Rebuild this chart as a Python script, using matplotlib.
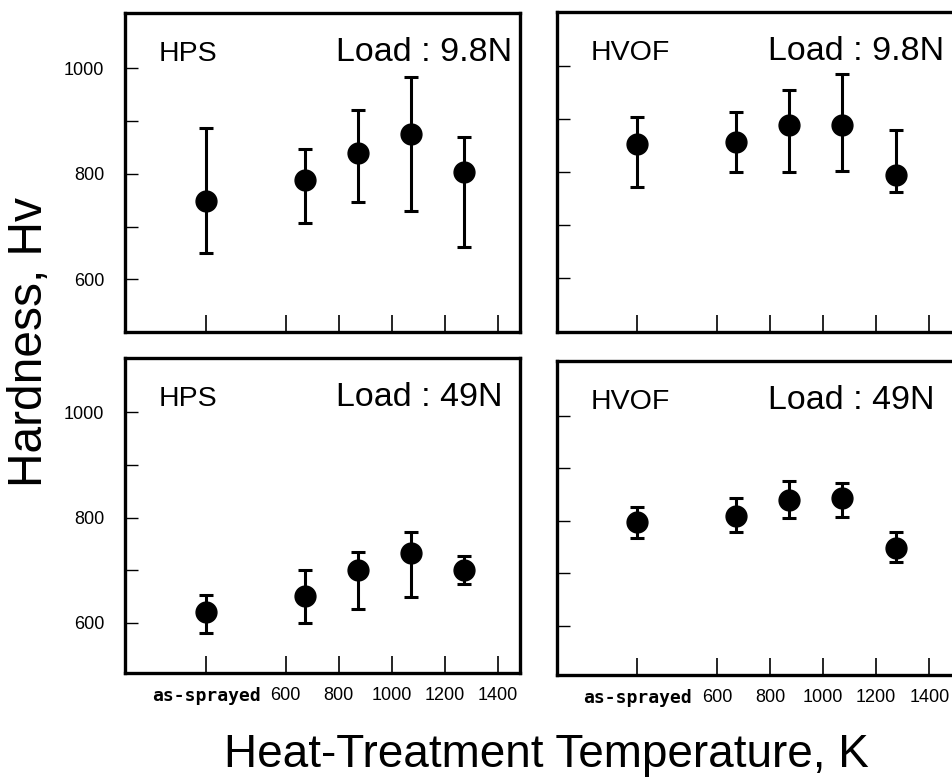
import matplotlib
matplotlib.use('Agg')
import matplotlib.pyplot as plt

plt.rcParams['font.family'] = ['Liberation Sans', 'DejaVu Sans']

# x positions (K); as-sprayed drawn at 300
temps = [300, 673, 873, 1073, 1273]
xtick_pos = [300, 600, 800, 1000, 1200, 1400]
xtick_lab = ['as-sprayed', '600', '800', '1000', '1200', '1400']
ytick_pos = [600, 700, 800, 900, 1000]
ytick_lab = ['600', '', '800', '', '1000']

# hardness: mean, upper end of bar, lower end of bar
hps_98 = [748, 788, 839, 875, 804]
hps_98_hi = [886, 848, 921, 984, 869]
hps_98_lo = [649, 707, 746, 729, 662]

hvof_98 = [852, 856, 888, 888, 794]
hvof_98_hi = [904, 912, 955, 984, 878]
hvof_98_lo = [771, 799, 799, 802, 762]

hps_49 = [620, 652, 701, 733, 701]
hps_49_hi = [654, 701, 735, 773, 728]
hps_49_lo = [580, 600, 627, 649, 674]

hvof_49 = [798, 809, 840, 844, 749]
hvof_49_hi = [826, 844, 876, 873, 779]
hvof_49_lo = [768, 779, 805, 807, 722]

W, H = 953, 779
fig = plt.figure(figsize=(W / 100, H / 100), dpi=100)

def px_rect(x0, y0, x1, y1):
    return [x0 / W, 1 - y1 / H, (x1 - x0) / W, (y1 - y0) / H]

panels = [
    # rect(px), xlim, ylim, method, load, data, show x labels, show y labels
    (px_rect(125, 13, 520, 332), (-5, 1482), (500, 1105), 'HPS', 'Load : 9.8N',
     (hps_98, hps_98_hi, hps_98_lo), False, True),
    (px_rect(557, 12, 955, 332), (-3, 1497), (497, 1102), 'HVOF', 'Load : 9.8N',
     (hvof_98, hvof_98_hi, hvof_98_lo), False, False),
    (px_rect(125, 358, 520, 673), (-5, 1482), (505, 1103), 'HPS', 'Load : 49N',
     (hps_49, hps_49_hi, hps_49_lo), True, True),
    (px_rect(557, 361, 955, 675), (-3, 1497), (506, 1105), 'HVOF', 'Load : 49N',
     (hvof_49, hvof_49_hi, hvof_49_lo), True, False),
]

for rect, xl, yl, method, load, (m, hi, lo), showx, showy in panels:
    ax = fig.add_axes(rect)
    err = [[a - b for a, b in zip(m, lo)], [b - a for a, b in zip(m, hi)]]
    ax.errorbar(temps, m, yerr=err, fmt='o', color='black', ms=15,
                elinewidth=2.2, capsize=4.8, capthick=2.2)
    ax.set_xlim(xl)
    ax.set_ylim(yl)
    for s in ax.spines.values():
        s.set_linewidth(2.4)

    ax.set_xticks(xtick_pos)
    ax.set_yticks(ytick_pos)
    if showx:
        ax.set_xticklabels(xtick_lab)
        lab0 = ax.get_xticklabels()[0]
        lab0.set_family(['DejaVu Sans Mono'])
        lab0.set_fontweight('bold')
        lab0.set_fontsize(12.5)
    else:
        ax.set_xticklabels([])
    if showy:
        ax.set_yticklabels(ytick_lab)
    else:
        ax.set_yticklabels([])
    ax.tick_params(axis='x', direction='in', length=12, width=1.2, labelsize=13, pad=10)
    ax.tick_params(axis='y', direction='in', length=9, width=1.0, labelsize=13, pad=15)

    ax.annotate(method, xy=(0, 1), xycoords='axes fraction', xytext=(34, -48),
                textcoords='offset pixels', ha='left', va='baseline', fontsize=20.5)
    ax.annotate(load, xy=(0, 1), xycoords='axes fraction', xytext=(211, -48),
                textcoords='offset pixels', ha='left', va='baseline', fontsize=24.5)

fig.text(30 / W, 1 - 342 / H, 'Hardness, Hv', rotation=90, ha='center', va='center',
         fontsize=34.5)
fig.text(546.5 / W, 1 - 767 / H, 'Heat-Treatment Temperature, K', ha='center',
         va='baseline', fontsize=33)

fig.savefig('out.png', dpi=100)
